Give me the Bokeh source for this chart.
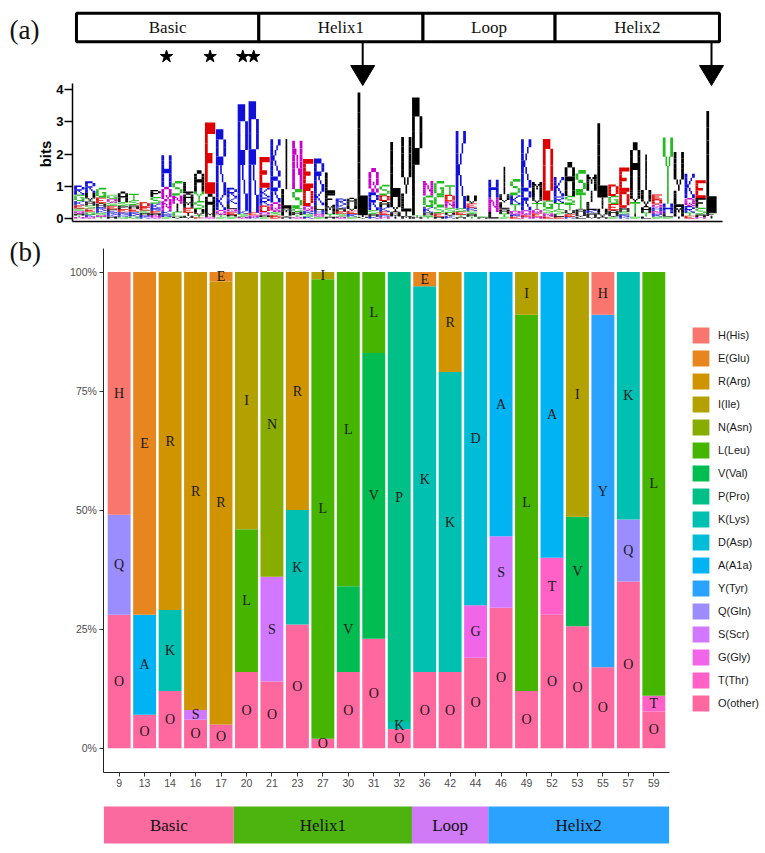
import math
from bokeh.plotting import figure
from bokeh.models import (Range1d, FixedTicker, Label, Legend, LegendItem,
                          ColumnDataSource)
from bokeh.layouts import column
from bokeh.embed import file_html
from bokeh.resources import INLINE
from bokeh.core.properties import value

# ------------------------------------------------------------------
# Panel (a): sequence logo data
# ------------------------------------------------------------------
domain_names = ["Basic", "Helix1", "Loop", "Helix2"]
domain_edges_a = [0.74, 17.47, 32.53, 44.65, 59.73]
star_positions = [9, 13, 16, 17]
arrow_positions = [27, 59]

logo_letters = [
    "RGKEQSATN", "RVAESGKQ", "GEARKSTQ", "QGESRPKA", "ASEPRKG", "TSAERGK",
    "DESAKR", "PSKREAQN", "HQNKRS", "SINCV", "LAMEIV", "AYSVTE", "EAMQ",
    "RKQTS", "RKLQESA", "RKSQ", "REQK", "EKRDQSA", "KRQSDE", "ILMVA",
    "NSAGTQ", "EDQRSK", "RKLHQS", "LFMTA", "RKASEQ", "VAERS", "LVI",
    "QRSAK", "SADKERN", "LVAIM", "VLIM", "PMT", "NGKATS", "GCSEA",
    "TNDSVK", "KESTA", "VESRAT", "AS", "HNL", "IVLATS", "SKTQER", "KRQNE",
    "MVTQEN", "DGSNE", "KTRSLE", "ASTVEK", "STAVL", "MILKVA", "LIVA",
    "DGEAVS", "EDARSK", "ATVIS", "IVATL", "DENHQRS", "YHLS", "VLMI",
    "KQRTE", "EFSAN", "LFI",
]
logo_heights = [
    [.28, .2, .13, .1, .08, .08, .06, .05, .04],
    [.35, .25, .15, .1, .1, .08, .07, .05],
    [.3, .18, .12, .1, .08, .07, .05, .05],
    [.12, .12, .1, .1, .08, .08, .07, .06],
    [.32, .12, .1, .1, .08, .06, .05],
    [.2, .14, .12, .1, .08, .06, .06],
    [.15, .1, .08, .07, .05, .05],
    [.22, .2, .15, .08, .07, .06, .05, .05],
    [.98, .45, .3, .1, .08, .05],
    [.45, .25, .25, .15, .06],
    [.35, .25, .2, .15, .1, .08],
    [.65, .3, .25, .2, .06, .03],
    [2.2, .6, .12, .05],
    [1.95, .55, .15, .06, .05],
    [.3, .2, .15, .1, .08, .06, .06],
    [3.3, .1, .08, .06],
    [3.45, .08, .06, .04],
    [.95, .3, .25, .2, .1, .05, .05],
    [1.15, .8, .3, .1, .05, .05],
    [1.55, .6, .2, .06, .05],
    [1.5, .6, .1, .1, .06, .05],
    [.9, .55, .15, .1, .08, .06],
    [.95, .5, .15, .12, .08, .06],
    [.65, .35, .28, .08, .06],
    [.18, .12, .1, .08, .08, .06],
    [.2, .2, .1, .08, .06],
    [3.8, .05, .05],
    [.75, .55, .12, .08, .06],
    [.32, .18, .18, .15, .1, .06, .05],
    [1.7, .45, .1, .06, .06],
    [1.75, .55, .15, .07],
    [3.65, .05, .05],
    [.45, .35, .18, .08, .05, .05],
    [.45, .33, .22, .1, .06],
    [.3, .2, .2, .15, .1, .08],
    [2.4, .1, .1, .06, .05],
    [.25, .12, .1, .1, .08, .06],
    [.03, .03],
    [.55, .45, .2],
    [.85, .25, .2, .15, .1, .05],
    [.5, .28, .2, .12, .06, .06],
    [1.5, .7, .15, .05, .05],
    [.4, .25, .2, .12, .1, .06],
    [1.9, .25, .15, .1, .06],
    [.6, .2, .2, .15, .08, .05],
    [1.05, .25, .2, .12, .08, .05],
    [.7, .5, .15, .1, .05],
    [.5, .35, .25, .1, .08, .08],
    [2.3, .35, .25, .05],
    [.35, .25, .2, .12, .08, .05],
    [.75, .5, .12, .08, .08, .05],
    [1.5, .35, .35, .1, .06],
    [1.1, .5, .2, .12, .06],
    [.15, .15, .1, .1, .1, .08, .06],
    [2.05, .3, .1, .06],
    [1.2, .5, .3, .06],
    [.75, .25, .2, .1, .08],
    [.55, .3, .2, .08, .05],
    [3.15, .1, .08],
]
logo_ticks = [0, 1, 2, 3, 4]

# ------------------------------------------------------------------
# Panel (b): amino acid composition (%) at selected positions
# ------------------------------------------------------------------
positions = ["9", "13", "14", "16", "17", "20", "21", "23", "27", "30", "31",
             "32", "36", "42", "44", "46", "49", "52", "53", "55", "57", "59"]
aa_codes = ["H", "E", "R", "I", "N", "L", "V", "P", "K", "D", "A", "Y", "Q",
            "S", "G", "T", "O"]
aa_labels = ["H(His)", "E(Glu)", "R(Arg)", "I(Ile)", "N(Asn)", "L(Leu)",
             "V(Val)", "P(Pro)", "K(Lys)", "D(Asp)", "A(A1a)", "Y(Tyr)",
             "Q(Gln)", "S(Scr)", "G(Gly)", "T(Thr)", "O(other)"]
H_pct = [51, 0, 0, 0, 0, 0, 0, 0, 0, 0, 0, 0, 0, 0, 0, 0, 0, 0, 0, 9, 0, 0]
E_pct = [0, 72, 0, 0, 2, 0, 0, 0, 0, 0, 0, 0, 3, 0, 0, 0, 0, 0, 0, 0, 0, 0]
R_pct = [0, 0, 71, 92, 93, 0, 0, 50, 0, 0, 0, 0, 0, 21, 0, 0, 0, 0, 0, 0, 0, 0]
I_pct = [0, 0, 0, 0, 0, 54, 0, 0, 1.5, 0, 0, 0, 0, 0, 0, 0, 9, 0, 51.4, 0, 0, 0]
N_pct = [0, 0, 0, 0, 0, 0, 64, 0, 0, 0, 0, 0, 0, 0, 0, 0, 0, 0, 0, 0, 0, 0]
L_pct = [0, 0, 0, 0, 0, 30, 0, 0, 96.5, 66, 17, 0, 0, 0, 0, 0, 79, 0, 0, 0, 0, 89]
V_pct = [0, 0, 0, 0, 0, 0, 0, 0, 0, 18, 60, 0, 0, 0, 0, 0, 0, 0, 23, 0, 0, 0]
P_pct = [0, 0, 0, 0, 0, 0, 0, 0, 0, 0, 0, 94.5, 0, 0, 0, 0, 0, 0, 0, 0, 0, 0]
K_pct = [0, 0, 17, 0, 0, 0, 0, 24, 0, 0, 0, 1.5, 81, 63, 0, 0, 0, 0, 0, 0, 52, 0]
D_pct = [0, 0, 0, 0, 0, 0, 0, 0, 0, 0, 0, 0, 0, 0, 70, 0, 0, 0, 0, 0, 0, 0]
A_pct = [0, 21, 0, 0, 0, 0, 0, 0, 0, 0, 0, 0, 0, 0, 0, 55.5, 0, 60, 0, 0, 0, 0]
Y_pct = [0, 0, 0, 0, 0, 0, 0, 0, 0, 0, 0, 0, 0, 0, 0, 0, 0, 0, 0, 74, 0, 0]
Q_pct = [21, 0, 0, 0, 0, 0, 0, 0, 0, 0, 0, 0, 0, 0, 0, 0, 0, 0, 0, 0, 13, 0]
S_pct = [0, 0, 0, 2, 0, 0, 22, 0, 0, 0, 0, 0, 0, 0, 0, 15, 0, 0, 0, 0, 0, 0]
G_pct = [0, 0, 0, 0, 0, 0, 0, 0, 0, 0, 0, 0, 0, 0, 11, 0, 0, 0, 0, 0, 0, 0]
T_pct = [0, 0, 0, 0, 0, 0, 0, 0, 0, 0, 0, 0, 0, 0, 0, 0, 0, 12, 0, 0, 0, 3.3]
O_pct = [28, 7, 12, 6, 5, 16, 14, 26, 2, 16, 23, 4, 16, 16, 19, 29.5, 12, 28,
         25.6, 17, 35, 7.7]
pct_ticks = [0, 25, 50, 75, 100]

# bottom domain bar (in units of the bar index axis of panel b)
domain_edges_b = [-0.6, 4.5, 11.5, 14.5, 21.6]

# ------------------------------------------------------------------
# helpers
# ------------------------------------------------------------------
def hcl_hex(h, c=100.0, l=65.0):
    hr = math.radians(h)
    U, V = c * math.cos(hr), c * math.sin(hr)
    Xn, Yn, Zn = 95.047, 100.0, 108.883
    Y = Yn * ((l + 16) / 116) ** 3
    den = Xn + 15 * Yn + 3 * Zn
    un, vn = 4 * Xn / den, 9 * Yn / den
    u = U / (13 * l) + un
    v = V / (13 * l) + vn
    X = 9.0 * Y * u / (4 * v)
    Z = -X / 3 - 5 * Y + 3 * Y / v
    x, y, z = X / 100, Y / 100, Z / 100
    rgb = [3.240479 * x - 1.537150 * y - 0.498535 * z,
           -0.969256 * x + 1.875992 * y + 0.041556 * z,
           0.055648 * x - 0.204043 * y + 1.057311 * z]
    out = []
    for ch in rgb:
        ch = 12.92 * ch if ch <= 0.0031308 else 1.055 * ch ** (1 / 2.4) - 0.055
        out.append(int(round(max(0, min(1, ch)) * 255)))
    return "#%02X%02X%02X" % tuple(out)


n_aa = len(aa_codes)
aa_colors = [hcl_hex(15 + 360.0 * i / n_aa) for i in range(n_aa)]

# block letters (5 columns x 7 rows); outer strokes drawn heavier
FONT = {
    "A": [".###.", "#...#", "#...#", "#####", "#...#", "#...#", "#...#"],
    "C": [".####", "#....", "#....", "#....", "#....", "#....", ".####"],
    "D": ["####.", "#...#", "#...#", "#...#", "#...#", "#...#", "####."],
    "E": ["#####", "#....", "#....", "####.", "#....", "#....", "#####"],
    "F": ["#####", "#....", "#....", "####.", "#....", "#....", "#...."],
    "G": [".####", "#....", "#....", "#..##", "#...#", "#...#", ".####"],
    "H": ["#...#", "#...#", "#...#", "#####", "#...#", "#...#", "#...#"],
    "I": ["..#..", "..#..", "..#..", "..#..", "..#..", "..#..", "..#.."],
    "K": ["#...#", "#..#.", "#.#..", "##...", "#.#..", "#..#.", "#...#"],
    "L": ["#....", "#....", "#....", "#....", "#....", "#....", "#####"],
    "M": ["#...#", "##.##", "#.#.#", "#.#.#", "#...#", "#...#", "#...#"],
    "N": ["#...#", "##..#", "#.#.#", "#.#.#", "#..##", "#...#", "#...#"],
    "P": ["####.", "#...#", "#...#", "####.", "#....", "#....", "#...."],
    "Q": [".###.", "#...#", "#...#", "#...#", "#.#.#", "#..#.", ".##.#"],
    "R": ["####.", "#...#", "#...#", "####.", "#.#..", "#..#.", "#...#"],
    "S": [".####", "#....", "#....", ".###.", "....#", "....#", "####."],
    "T": ["#####", "..#..", "..#..", "..#..", "..#..", "..#..", "..#.."],
    "V": ["#...#", "#...#", "#...#", "#...#", "#...#", ".#.#.", "..#.."],
    "W": ["#...#", "#...#", "#...#", "#.#.#", "#.#.#", "##.##", "#...#"],
    "Y": ["#...#", "#...#", ".#.#.", "..#..", "..#..", "..#..", "..#.."],
}
COL_EDGES = [0, .27, .42, .58, .73, 1.0]
ROW_EDGES = [0, .16, .29, .43, .57, .71, .84, 1.0]   # from the top

LOGO_COLOR = {}
for ch in "KRH":
    LOGO_COLOR[ch] = "#1010D8"
for ch in "DE":
    LOGO_COLOR[ch] = "#E00000"
for ch in "AVLIPFMW":
    LOGO_COLOR[ch] = "#000000"
for ch in "GSTYC":
    LOGO_COLOR[ch] = "#22BB22"
for ch in "NQ":
    LOGO_COLOR[ch] = "#CC00CC"

SERIF = value("Liberation Serif")
PAGE_W = 760


def bare_figure(height, x_range, y_range):
    p = figure(width=PAGE_W, height=height, output_backend="svg",
               toolbar_location=None, x_range=x_range, y_range=y_range,
               min_border_left=0, min_border_right=0, min_border_top=0,
               min_border_bottom=0)
    p.outline_line_color = None
    p.grid.visible = False
    p.background_fill_color = "white"
    p.border_fill_color = "white"
    return p


# ------------------------------------------------------------------
# Panel (a)   (page pixel y 0..230)
# ------------------------------------------------------------------
A_X0, A_STEP = 78.8, 10.9      # page px of position 1, px per position
A_Y0, A_BIT = 218.0, 32.25      # page px of 0 bits, px per bit


def a_x(px):
    return 1 + (px - A_X0) / A_STEP


def a_y(py):
    return (A_Y0 - py) / A_BIT


pa = bare_figure(230, Range1d(a_x(0), a_x(PAGE_W)), Range1d(a_y(230), a_y(0)))

pa.yaxis.fixed_location = a_x(72)
pa.yaxis.ticker = FixedTicker(ticks=logo_ticks)
pa.yaxis.bounds = (a_y(220.5), a_y(83))
pa.yaxis.major_label_text_font_style = "bold"
pa.yaxis.major_label_text_font_size = "13px"
pa.yaxis.major_label_text_font = "Liberation Sans"
pa.yaxis.major_label_text_color = "black"
pa.yaxis.major_tick_out = 8
pa.yaxis.major_tick_in = 0
pa.yaxis.major_label_standoff = 1
pa.yaxis.minor_tick_line_color = None
pa.yaxis.axis_line_width = 1.5
pa.yaxis.major_tick_line_width = 1.5

pa.xaxis.fixed_location = a_y(220.5)
pa.xaxis.bounds = (a_x(72), a_x(722))
pa.xaxis.ticker = FixedTicker(ticks=[])
pa.xaxis.major_label_text_font_size = "0px"
pa.xaxis.minor_tick_line_color = None
pa.xaxis.major_tick_line_color = None
pa.xaxis.axis_line_width = 1.5

# logo letters as stretched block glyphs
W = 0.94
L_, R_, T_, B_, C_ = [], [], [], [], []
for i, (letters, heights) in enumerate(zip(logo_letters, logo_heights)):
    pos = i + 1
    y0 = 0.0
    for ch, h in sorted(zip(letters, heights), key=lambda t: t[1]):
        bm = FONT[ch]
        for r, row in enumerate(bm):
            top = y0 + h * (1 - ROW_EDGES[r]) + 0.004
            bot = y0 + h * (1 - ROW_EDGES[r + 1])
            c = 0
            while c < 5:
                if row[c] == "#":
                    c0 = c
                    while c < 5 and row[c] == "#":
                        c += 1
                    L_.append(pos - W / 2 + W * COL_EDGES[c0])
                    R_.append(pos - W / 2 + W * COL_EDGES[c])
                    T_.append(top)
                    B_.append(bot)
                    C_.append(LOGO_COLOR[ch])
                else:
                    c += 1
        y0 += h
pa.quad(left=L_, right=R_, top=T_, bottom=B_, fill_color=C_, line_color=None)

# domain box
pa.quad(left=domain_edges_a[:-1], right=domain_edges_a[1:],
        top=a_y(12.7), bottom=a_y(41.3), fill_color="white",
        line_color="black", line_width=3)
pa.text(x=[(a + b) / 2 for a, b in zip(domain_edges_a[:-1], domain_edges_a[1:])],
        y=[a_y(27)] * 4, text=domain_names, text_font=SERIF,
        text_font_size="17px", text_align="center", text_baseline="middle",
        text_color="#111111")

# stars
pa.scatter(x=star_positions, y=[a_y(56)] * len(star_positions), marker="star",
           size=13, fill_color="black", line_color="black")

# arrows
pa.segment(x0=arrow_positions, y0=[a_y(41.3)] * 2, x1=arrow_positions,
           y1=[a_y(66)] * 2, line_color="black", line_width=2)
pa.patches(xs=[[p - 1.1, p + 1.1, p] for p in arrow_positions],
           ys=[[a_y(65), a_y(65), a_y(85)] for _ in arrow_positions],
           fill_color="black", line_color="black")

pa.add_layout(Label(x=a_x(9), y=a_y(29), text="(a)", text_font="Liberation Serif",
                    text_font_size="27px", text_align="left",
                    text_baseline="middle", text_color="#111111"))
pa.add_layout(Label(x=a_x(45), y=2.0, text="bits", angle=math.pi / 2,
                    text_font="Liberation Sans", text_font_style="bold",
                    text_font_size="15px", text_align="center",
                    text_baseline="middle", text_color="black"))

# ------------------------------------------------------------------
# Panel (b)   (page pixel y 230..795)
# ------------------------------------------------------------------
nb = len(positions)
bx_start, bx_end = -0.6, nb - 1 + 0.6
B_LEFT, B_RIGHT = 103.4, 668.6         # page px of the panel's x limits
B_ZERO, B_PX_PCT = 747.7, 4.762         # page px of 0 %, px per %
PB_TOP, PB_H = 230, 565


def b_x(px):
    return bx_start + (px - B_LEFT) * (bx_end - bx_start) / (B_RIGHT - B_LEFT)


def b_y(py):
    return (B_ZERO - py) / B_PX_PCT


pb = bare_figure(PB_H, Range1d(b_x(0), b_x(PAGE_W)),
                 Range1d(b_y(PB_TOP + PB_H), b_y(PB_TOP)))

pct_by_code = dict(zip(aa_codes, [H_pct, E_pct, R_pct, I_pct, N_pct, L_pct, V_pct,
                                  P_pct, K_pct, D_pct, A_pct, Y_pct, Q_pct, S_pct,
                                  G_pct, T_pct, O_pct]))
stack_order = aa_codes[::-1]           # O at bottom ... H on top
stack_colors = aa_colors[::-1]
src = ColumnDataSource(dict(x=list(range(nb)), **{c: pct_by_code[c] for c in aa_codes}))
renderers = pb.vbar_stack(stack_order, x="x", width=0.9, source=src,
                          fill_color=stack_colors, line_color=None)

# letters in the middle of each segment
tx, ty, tt = [], [], []
for i in range(nb):
    bottom = 0.0
    for c in stack_order:
        v = pct_by_code[c][i]
        if v > 0:
            tx.append(i)
            ty.append(bottom + v / 2)
            tt.append(c)
        bottom += v
pb.text(x=tx, y=ty, text=tt, text_font=SERIF, text_font_size="14px",
        text_align="center", text_baseline="middle", text_color="#1a1a1a")

for ax in (pb.xaxis, pb.yaxis):
    ax.axis_line_color = "#222222"
    ax.axis_line_width = 1
    ax.major_tick_line_color = "#333333"
    ax.major_tick_out = 4
    ax.major_tick_in = 0
    ax.minor_tick_line_color = None
    ax.major_label_text_font = "Liberation Sans"
    ax.major_label_text_font_size = "10.5px"
    ax.major_label_text_color = "#4D4D4D"
    ax.major_label_standoff = 3
pb.xaxis.fixed_location = -5
pb.xaxis.bounds = (bx_start, bx_end)
pb.xaxis.ticker = FixedTicker(ticks=list(range(nb)))
pb.xaxis.major_label_overrides = {i: positions[i] for i in range(nb)}
pb.yaxis.fixed_location = bx_start
pb.yaxis.bounds = (-5, 105)
pb.yaxis.ticker = FixedTicker(ticks=pct_ticks)
pb.yaxis.major_label_overrides = {t: "%d%%" % t for t in pct_ticks}

items = [LegendItem(label=lab, renderers=[renderers[stack_order.index(c)]])
         for c, lab in zip(aa_codes, aa_labels)]
legend = Legend(items=items, location=(690, PB_TOP + PB_H - 713),
                glyph_width=21, glyph_height=20, spacing=3, label_standoff=7,
                label_text_font="Liberation Sans", label_text_font_size="11px",
                label_text_color="#1a1a1a", label_height=20, padding=0, margin=0,
                border_line_color=None, background_fill_alpha=0)
pb.add_layout(legend, "center")

pb.add_layout(Label(x=b_x(9), y=b_y(251), text="(b)", text_font="Liberation Serif",
                    text_font_size="27px", text_align="left",
                    text_baseline="middle", text_color="#111111"))

# ------------------------------------------------------------------
# bottom domain bar   (page pixel y 795..845)
# ------------------------------------------------------------------
PC_TOP, PC_H = 795, 50


def c_y(py):
    return PC_TOP + PC_H - py


pc = bare_figure(PC_H, Range1d(b_x(0), b_x(PAGE_W)), Range1d(0, PC_H))
pc.axis.visible = False
domain_colors_b = ["#FB6A9E", "#4DB30E", "#D07AF7", "#2AA2FF"]
pc.quad(left=domain_edges_b[:-1], right=domain_edges_b[1:], top=c_y(806),
        bottom=c_y(843), fill_color=domain_colors_b, line_color=None)
pc.text(x=[(a + b) / 2 for a, b in zip(domain_edges_b[:-1], domain_edges_b[1:])],
        y=[c_y(824.5)] * 4, text=domain_names, text_font=SERIF,
        text_font_size="17px", text_align="center", text_baseline="middle",
        text_color="#111111")

layout = column(pa, pb, pc, spacing=0)
open("out.html", "w").write(file_html(layout, INLINE))
